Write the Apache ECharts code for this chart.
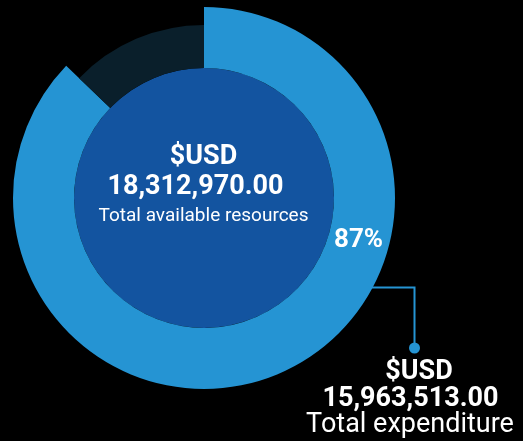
<!DOCTYPE html>
<html>
<head>
<meta charset="utf-8">
<script src="https://cdn.jsdelivr.net/npm/echarts@6/dist/echarts.min.js"></script>
<style>
  html, body { margin: 0; padding: 0; background: #000; }
  #main { width: 523px; height: 441px; }
</style>
</head>
<body>
<div id="main"></div>
<script>
var totalAvailable = 18312970.00;
var totalExpenditure = 15963513.00;
var segNames = ['Total expenditure', 'Remaining'];
var segValues = [totalExpenditure, totalAvailable - totalExpenditure];
var currency = '$USD';

function fmt(v) {
  return v.toLocaleString('en-US', { minimumFractionDigits: 2, maximumFractionDigits: 2 });
}
var pct = Math.round(totalExpenditure / totalAvailable * 100) + '%';

var chart = echarts.init(document.getElementById('main'), null, { renderer: 'canvas' });
var center = [204, 198];
var font = 'Roboto';

var option = {
  backgroundColor: '#000',
  animation: false,
  series: [
    {
      // inner disc
      type: 'pie',
      silent: true,
      center: center,
      radius: [0, 130],
      label: { show: false },
      data: [{ value: totalAvailable, name: 'available', itemStyle: { color: '#1354a0' } }]
    },
    {
      // expenditure ring
      type: 'pie',
      silent: true,
      center: center,
      radius: [130, 191],
      startAngle: 90,
      clockwise: true,
      label: { show: false },
      data: [
        { value: segValues[0], name: segNames[0], itemStyle: { color: '#2594d3' } },
        { value: segValues[1], name: segNames[1], itemStyle: { color: 'rgba(0,0,0,0)' } }
      ]
    },
    {
      // remaining (thinner)
      type: 'pie',
      silent: true,
      center: center,
      radius: [130, 173],
      startAngle: 90,
      clockwise: true,
      label: { show: false },
      data: [
        { value: segValues[0], name: segNames[0], itemStyle: { color: 'rgba(0,0,0,0)' } },
        { value: segValues[1], name: segNames[1], itemStyle: { color: '#0a1f2b' } }
      ]
    }
  ],
  graphic: {
    elements: [
      {
        type: 'text', x: 203.5, y: 157, z: 100,
        style: { text: currency, fill: '#fff', font: 'bold 27px ' + font, textAlign: 'center', textVerticalAlign: 'middle' }
      },
      {
        type: 'text', x: 195.5, y: 187, z: 100,
        style: { text: fmt(totalAvailable), fill: '#fff', font: 'bold 27px ' + font, textAlign: 'center', textVerticalAlign: 'middle' }
      },
      {
        type: 'text', x: 203.5, y: 216, z: 100,
        style: { text: 'Total available resources', fill: '#fff', font: '19px ' + font, textAlign: 'center', textVerticalAlign: 'middle' }
      },
      {
        type: 'text', x: 358.5, y: 240, z: 100,
        style: { text: pct, fill: '#fff', font: 'bold 26px ' + font, textAlign: 'center', textVerticalAlign: 'middle' }
      },
      {
        type: 'polyline', z: 100,
        shape: { points: [[372, 287.5], [414.5, 287.5], [414.5, 347]] },
        style: { stroke: '#2594d3', lineWidth: 2, fill: null }
      },
      {
        type: 'circle', z: 100,
        shape: { cx: 414.5, cy: 348, r: 5.5 },
        style: { fill: '#2594d3' }
      },
      {
        type: 'text', x: 419, y: 372, z: 100,
        style: { text: currency, fill: '#fff', font: 'bold 27px ' + font, textAlign: 'center', textVerticalAlign: 'middle' }
      },
      {
        type: 'text', x: 410.5, y: 399, z: 100,
        style: { text: fmt(totalExpenditure), fill: '#fff', font: 'bold 27px ' + font, textAlign: 'center', textVerticalAlign: 'middle' }
      },
      {
        type: 'text', x: 410, y: 425, z: 100,
        style: { text: 'Total expenditure', fill: '#fff', font: '27px ' + font, textAlign: 'center', textVerticalAlign: 'middle' }
      }
    ]
  }
};
chart.setOption(option);
</script>
</body>
</html>
